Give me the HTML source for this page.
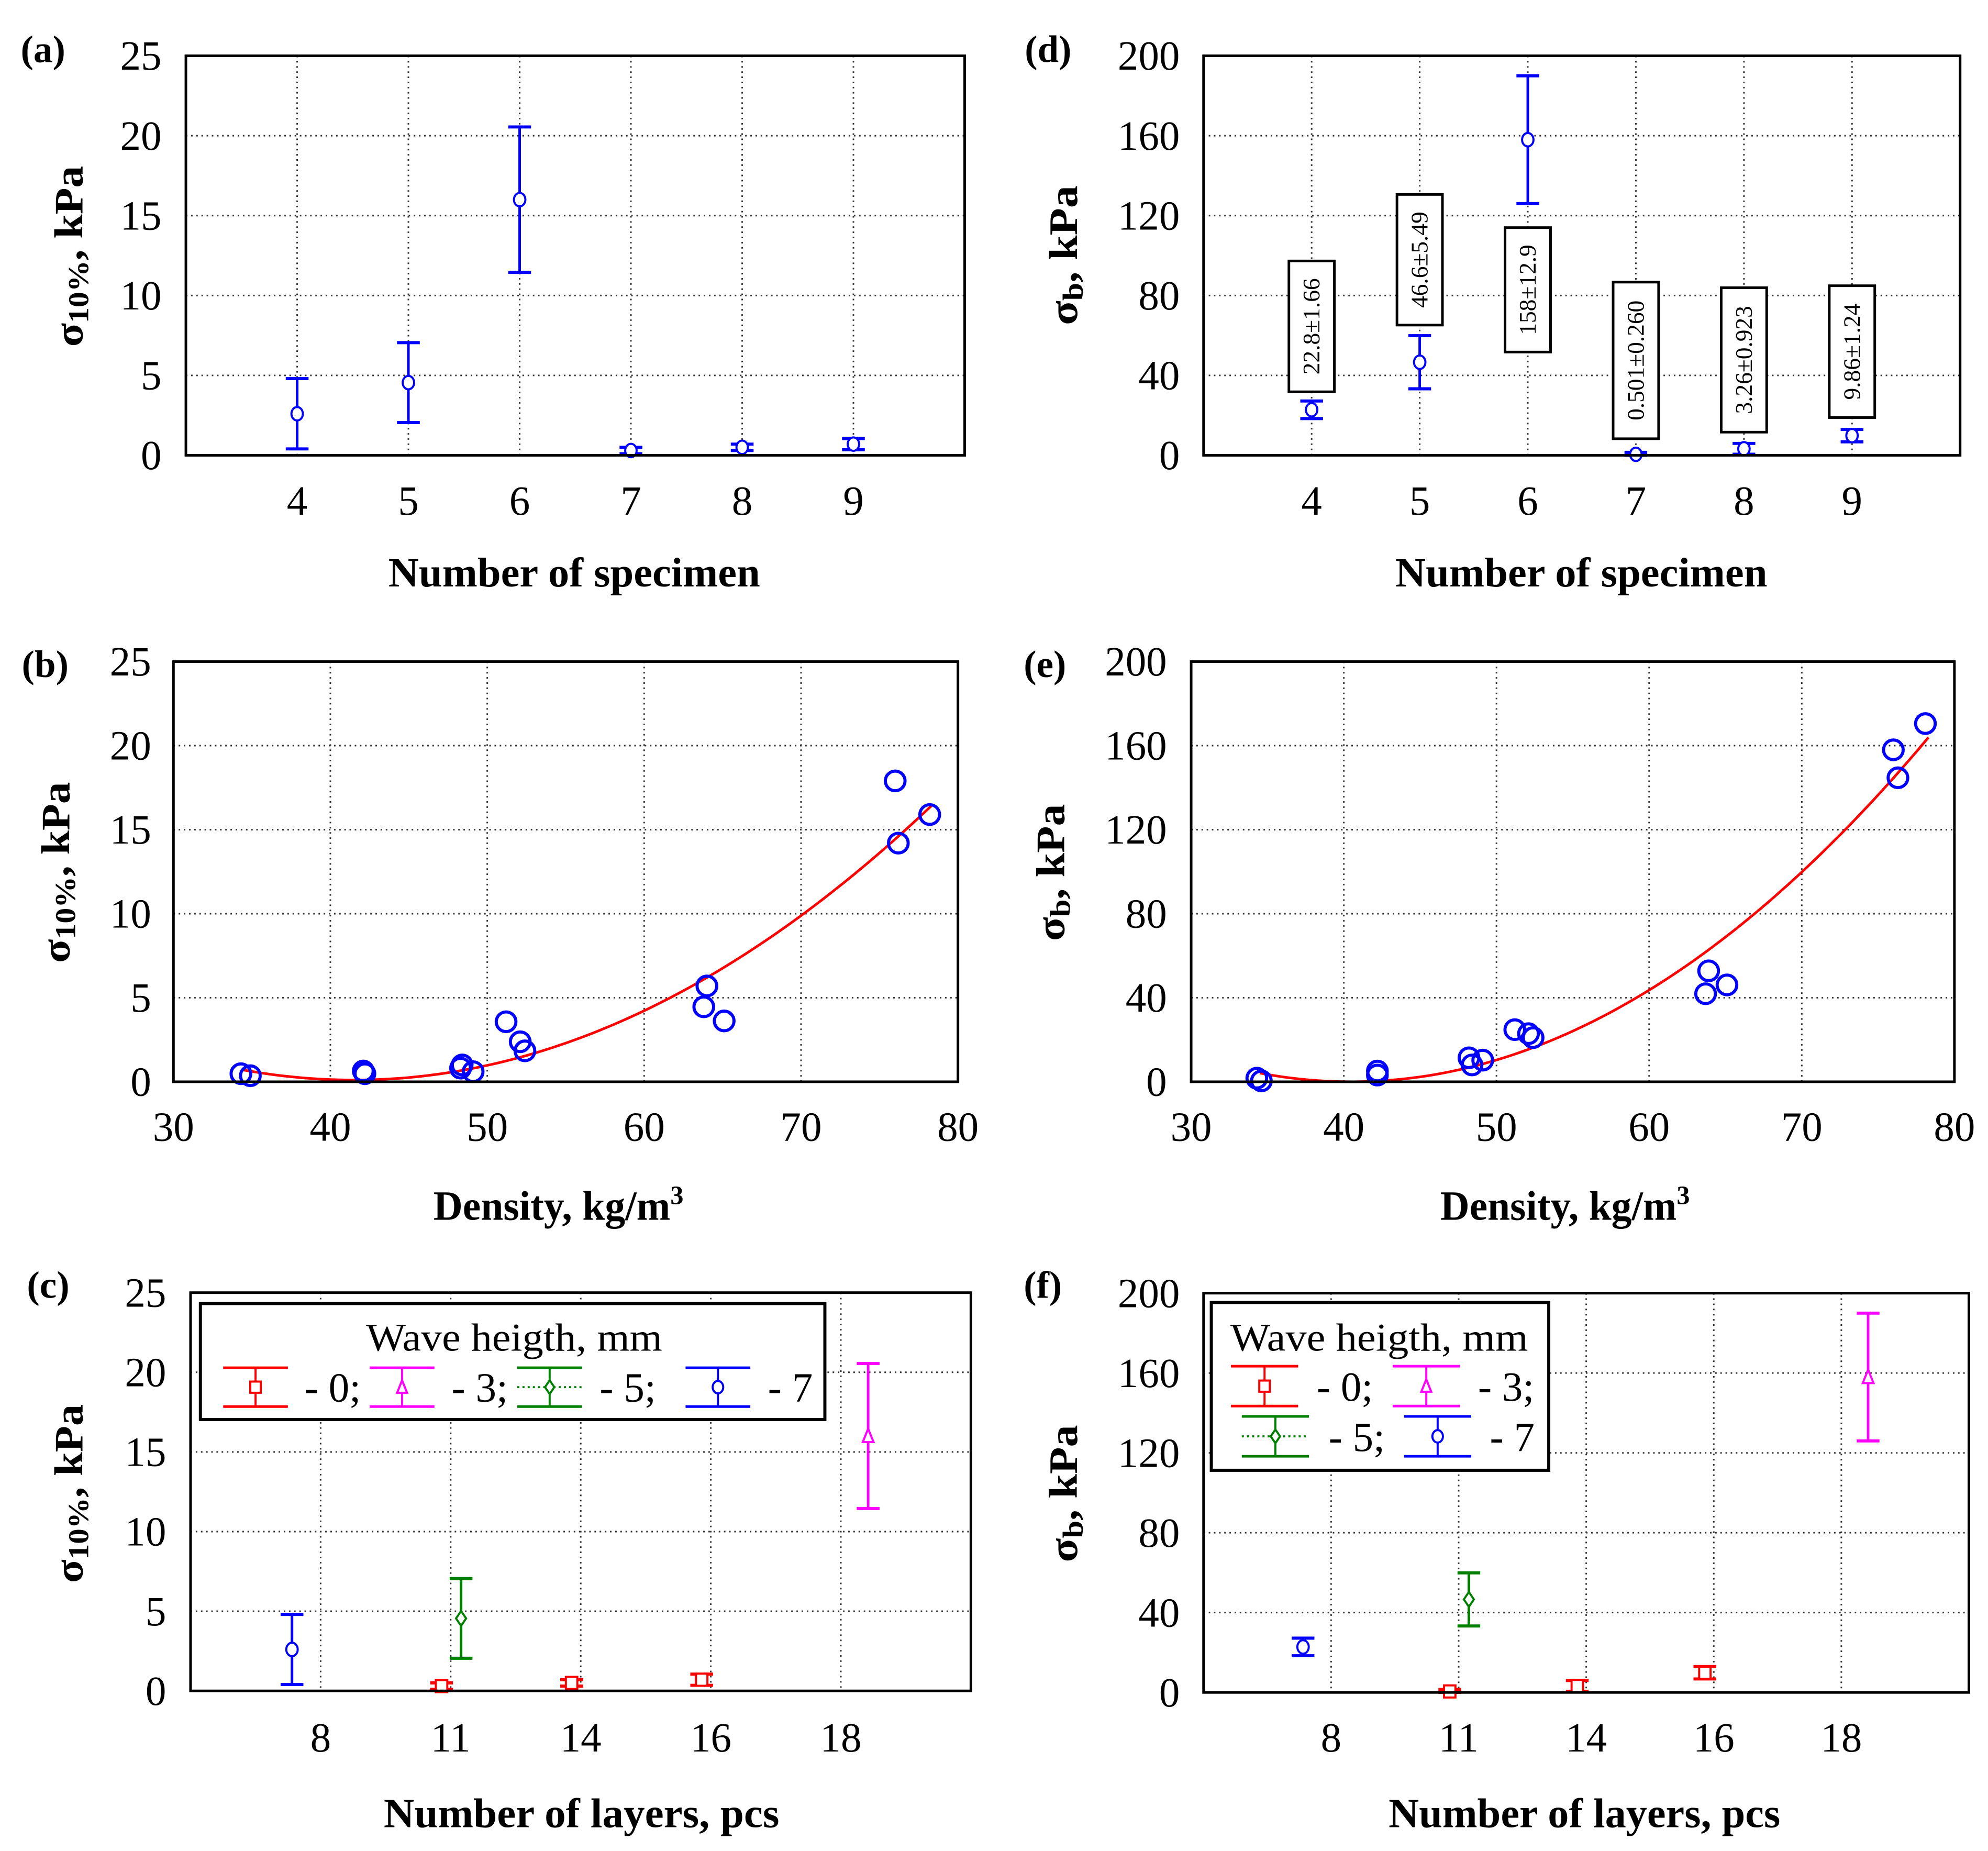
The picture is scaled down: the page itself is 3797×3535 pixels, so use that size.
<!DOCTYPE html>
<html><head><meta charset="utf-8">
<style>
html,body{margin:0;padding:0;background:#fff;}
svg{display:block;}
text{font-family:"Liberation Serif",serif;}
</style></head>
<body>
<svg id="fig" xmlns="http://www.w3.org/2000/svg" width="3797" height="3535" viewBox="0 0 3797 3535">
<rect x="0" y="0" width="3797" height="3535" fill="#fff"/>
</svg>
<script>
// ---------- DATA ----------
const specimenCats = [4, 5, 6, 7, 8, 9];
const sigma10Mean = [2.6, 4.55, 16, 0.3, 0.5, 0.7];
const sigma10Err = [2.2, 2.5, 4.55, 0.2, 0.2, 0.35];
const sigmaBMean = [22.8, 46.6, 158, 0.501, 3.26, 9.86];
const sigmaBErr = [4.4, 13.3, 32, 1, 2.7, 3.1];
const sigmaBLabels = ['22.8±1.66', '46.6±5.49', '158±12.9', '0.501±0.260', '3.26±0.923', '9.86±1.24'];
const sigmaBLabelTop = [97.3, 130.6, 114, 86.7, 83.9, 84.9];
const sigmaBLabelBottom = [31.8, 65.2, 51.7, 8.3, 11.6, 18.9];

const densityB = [34.3, 34.9, 42.1, 42.2, 48.3, 48.4, 49.1, 51.2, 52.1, 52.4, 63.8, 64.0, 65.1, 76.0, 76.2, 78.2];
const sigma10Pts = [0.48, 0.36, 0.64, 0.48, 0.81, 1.0, 0.6, 3.57, 2.38, 1.84, 4.46, 5.7, 3.62, 17.9, 14.2, 15.9];
const fitB = [20.84, -0.9993, 0.01204];
const fitBRange = [34.4, 78.3];

const densityE = [34.3, 34.6, 42.2, 42.2, 48.2, 48.4, 49.1, 51.2, 52.1, 52.4, 63.7, 63.9, 65.1, 76.0, 76.3, 78.1];
const sigmaBPts = [1.7, 0.4, 5.1, 3.2, 11.4, 8, 10.3, 24.8, 22.9, 21, 41.9, 52.8, 46.1, 158, 144.7, 170.5];
const fitE = [188.14, -9.2907, 0.1147];
const fitERange = [34.5, 78.3];

const layerCats = ['8', '11', '14', '16', '18'];
const waveHeights = ['0', '3', '5', '7'];
const waveColors = ['#ff0000', '#ff00ff', '#008000', '#0000ff'];
const waveMarkers = ['square', 'triangle', 'diamond', 'circle'];
const waveOffset = [-0.07, 0.21, 0.08, -0.22];
const waveCatIdx = [[1, 2, 3], [4], [1], [0]];
const waveSig10Mean = [[0.3, 0.5, 0.7], [16], [4.55], [2.6]];
const waveSig10Err = [[0.2, 0.2, 0.35], [4.55], [2.5], [2.2]];
const waveSigBMean = [[0.501, 3.26, 9.86], [158], [46.6], [22.8]];
const waveSigBErr = [[1, 2.7, 3.1], [32], [13.3], [4.4]];

const ticks25 = [0, 5, 10, 15, 20, 25];
const ticks200 = [0, 40, 80, 120, 160, 200];
const ticksDensity = [30, 40, 50, 60, 70, 80];

// ---------- HELPERS ----------
const NS = 'http://www.w3.org/2000/svg';
const svg = document.getElementById('fig');
function mk(tag, attrs, parent) {
  const e = document.createElementNS(NS, tag);
  for (const k in attrs) e.setAttribute(k, attrs[k]);
  (parent || svg).appendChild(e);
  return e;
}
function panelGroup(ox, oy, kx, ky) {
  return mk('g', {transform: `translate(${ox},${oy}) scale(${kx},${ky}) translate(${-ox},${-oy})`});
}
function scales(p) {
  return {
    sx: v => p.x0 + (v - p.xmin) / (p.xmax - p.xmin) * (p.x1 - p.x0),
    sy: v => p.y1 - (v - p.ymin) / (p.ymax - p.ymin) * (p.y1 - p.y0)
  };
}
function drawFrame(p, g, xt, yt, xlabels) {
  const s = scales(p);
  const grid = mk('g', {}, g);
  
  
  xt.forEach(v => {
    const x = s.sx(v);
    const l = mk('line', {x1: x, x2: x, y1: p.y0, y2: p.y1, stroke: '#333', 'stroke-width': 3, 'stroke-dasharray': '3 7'}, grid);
    
    
  });
  yt.forEach(v => {
    const y = s.sy(v);
    const l = mk('line', {x1: p.x0, x2: p.x1, y1: y, y2: y, stroke: '#333', 'stroke-width': 3, 'stroke-dasharray': '3 7'}, grid);
    
    
  });
  yt.forEach(v => {
    const t = mk('text', {x: p.ytx, y: s.sy(v) + 27, 'text-anchor': 'end', 'font-size': 80}, g);
    t.textContent = String(v);
    
    
  });
  xt.forEach((v, i) => {
    const t = mk('text', {x: s.sx(v), y: p.xty, 'text-anchor': 'middle', 'font-size': 80}, g);
    t.textContent = xlabels ? xlabels[i] : String(v);
    
    
  });
}
function drawBorder(p, g) {
  const r = mk('rect', {x: p.x0, y: p.y0, width: p.x1 - p.x0, height: p.y1 - p.y0, fill: 'none', stroke: '#000', 'stroke-width': 5}, g);
  
  
}
function marker(type, cx, cy, color, g, size) {
  let e;
  const r = size;
  if (type === 'circle') e = mk('ellipse', {cx: cx, cy: cy, rx: r * 0.85, ry: r, fill: '#fff', stroke: color, 'stroke-width': 4}, g);
  else if (type === 'square') e = mk('rect', {x: cx - r * 0.85, y: cy - r * 0.9, width: r * 1.7, height: r * 1.8, fill: '#fff', stroke: color, 'stroke-width': 4}, g);
  else if (type === 'triangle') e = mk('polygon', {points: `${cx},${cy - r * 1.1} ${cx + r * 0.8},${cy + r * 0.9} ${cx - r * 0.8},${cy + r * 0.9}`, fill: '#fff', stroke: color, 'stroke-width': 4}, g);
  else e = mk('polygon', {points: `${cx},${cy - r * 1.1} ${cx + r * 0.75},${cy} ${cx},${cy + r * 1.1} ${cx - r * 0.75},${cy}`, fill: '#fff', stroke: color, 'stroke-width': 4}, g);
  return e;
}
function errBar(x, yTop, yBot, yMid, color, type, g, cap) {
  const eg = mk('g', {}, g);
  
  
  mk('line', {x1: x, x2: x, y1: yTop, y2: yBot, stroke: color, 'stroke-width': 5}, eg);
  mk('line', {x1: x - cap, x2: x + cap, y1: yTop, y2: yTop, stroke: color, 'stroke-width': 6}, eg);
  mk('line', {x1: x - cap, x2: x + cap, y1: yBot, y2: yBot, stroke: color, 'stroke-width': 6}, eg);
  const m = marker(type, x, yMid, color, eg, 13);
  
  
  return eg;
}
function panelLabel(txt, x, y, g) {
  const t = mk('text', {x: x, y: y, 'font-size': 74, 'font-weight': 'bold'}, g);
  t.textContent = txt;
  
  
}
function yTitle(cx, cy, len, sub, g) {
  const t = mk('text', {x: cx, y: cy, 'text-anchor': 'middle', 'font-size': 78, 'font-weight': 'bold', transform: `rotate(-90 ${cx} ${cy})`, textLength: len, lengthAdjust: 'spacingAndGlyphs', 'dominant-baseline': 'middle'}, g);
  const a = mk('tspan', {}, t); a.textContent = 'σ';
  const b = mk('tspan', {'font-size': 56, dy: 16}, t); b.textContent = sub;
  const c = mk('tspan', {dy: -16}, t); c.textContent = ', kPa';
  
  
}
function xTitle(txt, x0, x1, y, g, sup) {
  const t = mk('text', {x: (x0 + x1) / 2, y: y, 'text-anchor': 'middle', 'font-size': 80, 'font-weight': 'bold', textLength: x1 - x0, lengthAdjust: 'spacingAndGlyphs'}, g);
  const a = mk('tspan', {}, t); a.textContent = txt;
  if (sup) { const b = mk('tspan', {'font-size': 52, dy: -30}, t); b.textContent = sup; }
  
  
}

// ---------- PANEL (a) ----------
(function () {
  const p = {x0: 359, x1: 1863, y0: 108, y1: 881, xmin: 3, xmax: 10, ymin: 0, ymax: 25, ytx: 312, xty: 996};
  const g = panelGroup(0, 0, 0.989, 0.987);
  
  
  const s = scales(p);
  drawFrame(p, g, specimenCats, ticks25);
  specimenCats.forEach((c, i) => {
    errBar(s.sx(c), s.sy(sigma10Mean[i] + sigma10Err[i]), s.sy(sigma10Mean[i] - sigma10Err[i]), s.sy(sigma10Mean[i]), '#0000ff', 'circle', g, 22);
  });
  drawBorder(p, g);
  panelLabel('(a)', 40, 120, g);
  yTitle(141, 496, 350, '10%', g);
  xTitle('Number of specimen', 750, 1468, 1135, g);
})();

// ---------- PANEL (d) ----------
(function () {
  const p = {x0: 2304, x1: 3768, y0: 108, y1: 881, xmin: 3, xmax: 10, ymin: 0, ymax: 200, ytx: 2258, xty: 996};
  const g = panelGroup(1900, 0, 0.987, 0.987);
  
  
  const s = scales(p);
  drawFrame(p, g, specimenCats, ticks200);
  specimenCats.forEach((c, i) => {
    errBar(s.sx(c), s.sy(sigmaBMean[i] + sigmaBErr[i]), s.sy(Math.max(0, sigmaBMean[i] - sigmaBErr[i])), s.sy(sigmaBMean[i]), '#0000ff', 'circle', g, 22);
    const x = s.sx(c), yt = s.sy(sigmaBLabelTop[i]), yb = s.sy(sigmaBLabelBottom[i]);
    const bg = mk('g', {}, g);
    
    
    mk('rect', {x: x - 44, y: yt, width: 88, height: yb - yt, fill: '#fff', stroke: '#000', 'stroke-width': 5}, bg);
    const cy = (yt + yb) / 2;
    const t = mk('text', {x: x, y: cy, 'text-anchor': 'middle', 'dominant-baseline': 'central', 'font-size': 46, transform: `rotate(-90 ${x} ${cy})`}, bg);
    t.textContent = sigmaBLabels[i];
    
    
  });
  drawBorder(p, g);
  panelLabel('(d)', 1958, 120, g);
  yTitle(2041, 494, 270, 'b', g);
  xTitle('Number of specimen', 2675, 3395, 1135, g);
})();

// ---------- PANEL (b) ----------
(function () {
  const p = {x0: 335, x1: 1850, y0: 1265, y1: 2078, xmin: 30, xmax: 80, ymin: 0, ymax: 25, ytx: 292, xty: 2192};
  const g = panelGroup(0, 1150, 0.989, 0.987);
  
  
  const s = scales(p);
  drawFrame(p, g, ticksDensity, ticks25);
  let d = '';
  for (let k = 0; k <= 100; k++) {
    const x = fitBRange[0] + (fitBRange[1] - fitBRange[0]) * k / 100;
    const y = fitB[0] + fitB[1] * x + fitB[2] * x * x;
    d += (k ? 'L' : 'M') + s.sx(x).toFixed(1) + ',' + s.sy(y).toFixed(1);
  }
  const fl = mk('path', {d: d, fill: 'none', stroke: '#ff0000', 'stroke-width': 5}, g);
  
  
  densityB.forEach((x, i) => {
    const c = mk('circle', {cx: s.sx(x), cy: s.sy(sigma10Pts[i]), r: 19, fill: 'none', stroke: '#0000ff', 'stroke-width': 6}, g);
    
    
  });
  drawBorder(p, g);
  panelLabel('(b)', 42, 1295, g);
  yTitle(116, 1673, 350, '10%', g);
  xTitle('Density, kg/m', 837, 1320, 2345, g, '3');
})();

// ---------- PANEL (e) ----------
(function () {
  const p = {x0: 2280, x1: 3757, y0: 1265, y1: 2078, xmin: 30, xmax: 80, ymin: 0, ymax: 200, ytx: 2233, xty: 2192};
  const g = panelGroup(1900, 1150, 0.987, 0.987);
  
  
  const s = scales(p);
  drawFrame(p, g, ticksDensity, ticks200);
  let d = '';
  for (let k = 0; k <= 100; k++) {
    const x = fitERange[0] + (fitERange[1] - fitERange[0]) * k / 100;
    const y = fitE[0] + fitE[1] * x + fitE[2] * x * x;
    d += (k ? 'L' : 'M') + s.sx(x).toFixed(1) + ',' + s.sy(y).toFixed(1);
  }
  const fl = mk('path', {d: d, fill: 'none', stroke: '#ff0000', 'stroke-width': 5}, g);
  
  
  densityE.forEach((x, i) => {
    const c = mk('circle', {cx: s.sx(x), cy: s.sy(sigmaBPts[i]), r: 19, fill: 'none', stroke: '#0000ff', 'stroke-width': 6}, g);
    
    
  });
  drawBorder(p, g);
  panelLabel('(e)', 1956, 1295, g);
  yTitle(2016, 1673, 265, 'b', g);
  xTitle('Density, kg/m', 2762, 3245, 2345, g, '3');
})();

// ---------- legend symbol ----------
function legendSym(i, x0, x1, yTop, yBot, g) {
  const cx = (x0 + x1) / 2, cy = (yTop + yBot) / 2;
  const sg = mk('g', {}, g);
  
  
  if (waveMarkers[i] === 'diamond') mk('line', {x1: x0, x2: x1, y1: cy, y2: cy, stroke: waveColors[i], 'stroke-width': 4, 'stroke-dasharray': '4 6'}, sg);
  mk('line', {x1: cx, x2: cx, y1: yTop, y2: yBot, stroke: waveColors[i], 'stroke-width': 4}, sg);
  mk('line', {x1: x0, x2: x1, y1: yTop, y2: yTop, stroke: waveColors[i], 'stroke-width': 5}, sg);
  mk('line', {x1: x0, x2: x1, y1: yBot, y2: yBot, stroke: waveColors[i], 'stroke-width': 5}, sg);
  marker(waveMarkers[i], cx, cy, waveColors[i], sg, 12);
}
function legendText(txt, x, y, g) {
  const t = mk('text', {x: x, y: y, 'font-size': 80}, g);
  t.textContent = txt;
  
  
}

// ---------- PANEL (c) ----------
(function () {
  const p = {x0: 368, x1: 1875, y0: 2470, y1: 3239, xmin: -1, xmax: 5, ymin: 0, ymax: 25, ytx: 321, xty: 3356};
  const g = panelGroup(0, 2350, 0.989, 0.989);
  
  
  const s = scales(p);
  drawFrame(p, g, layerCats.map((c, i) => i), ticks25, layerCats);
  waveHeights.forEach((w, si) => {
    waveCatIdx[si].forEach((ci, k) => {
      const m = waveSig10Mean[si][k], e = waveSig10Err[si][k];
      errBar(s.sx(ci + waveOffset[si]), s.sy(m + e), s.sy(Math.max(0, m - e)), s.sy(m), waveColors[si], waveMarkers[si], g, 22);
    });
  });
  drawBorder(p, g);
  const lg = mk('g', {}, g);
  
  
  mk('rect', {x: 387, y: 2491, width: 1206, height: 224, fill: '#fff', stroke: '#000', 'stroke-width': 6}, lg);
  const tt = mk('text', {x: 993, y: 2582, 'text-anchor': 'middle', 'font-size': 76, textLength: 572, lengthAdjust: 'spacingAndGlyphs'}, lg);
  tt.textContent = 'Wave heigth, mm';
  
  
  const sx0 = [431, 714, 999, 1324], tx0 = [588, 872, 1158, 1483];
  const labs = ['- 0;', '- 3;', '- 5;', '- 7'];
  waveHeights.forEach((w, i) => {
    legendSym(i, sx0[i], sx0[i] + 125, 2615, 2690, lg);
    legendText(labs[i], tx0[i], 2680, lg);
  });
  panelLabel('(c)', 52, 2480, g);
  yTitle(141, 2858, 345, '10%', g);
  xTitle('Number of layers, pcs', 741, 1505, 3502, g);
})();

// ---------- PANEL (f) ----------
(function () {
  const p = {x0: 2304, x1: 3785, y0: 2471, y1: 3242, xmin: -1, xmax: 5, ymin: 0, ymax: 200, ytx: 2258, xty: 3356};
  const g = panelGroup(1900, 2350, 0.987, 0.989);
  
  
  const s = scales(p);
  drawFrame(p, g, layerCats.map((c, i) => i), ticks200, layerCats);
  waveHeights.forEach((w, si) => {
    waveCatIdx[si].forEach((ci, k) => {
      const m = waveSigBMean[si][k], e = waveSigBErr[si][k];
      errBar(s.sx(ci + waveOffset[si]), s.sy(m + e), s.sy(Math.max(0, m - e)), s.sy(m), waveColors[si], waveMarkers[si], g, 22);
    });
  });
  drawBorder(p, g);
  const lg = mk('g', {}, g);
  
  
  mk('rect', {x: 2319, y: 2489, width: 653, height: 324, fill: '#fff', stroke: '#000', 'stroke-width': 6}, lg);
  const tt = mk('text', {x: 2644, y: 2582, 'text-anchor': 'middle', 'font-size': 76, textLength: 576, lengthAdjust: 'spacingAndGlyphs'}, lg);
  tt.textContent = 'Wave heigth, mm';
  
  
  const sx0 = [2357, 2670, 2378, 2692], tx0 = [2523, 2835, 2546, 2858];
  const top = [2612, 2612, 2709, 2709], bot = [2689, 2689, 2786, 2786];
  const labs = ['- 0;', '- 3;', '- 5;', '- 7'];
  waveHeights.forEach((w, i) => {
    legendSym(i, sx0[i], sx0[i] + 130, top[i], bot[i], lg);
    legendText(labs[i], tx0[i], (top[i] + bot[i]) / 2 + 28, lg);
  });
  panelLabel('(f)', 1956, 2480, g);
  yTitle(2041, 2858, 265, 'b', g);
  xTitle('Number of layers, pcs', 2662, 3420, 3502, g);
})();
</script>
</body></html>
